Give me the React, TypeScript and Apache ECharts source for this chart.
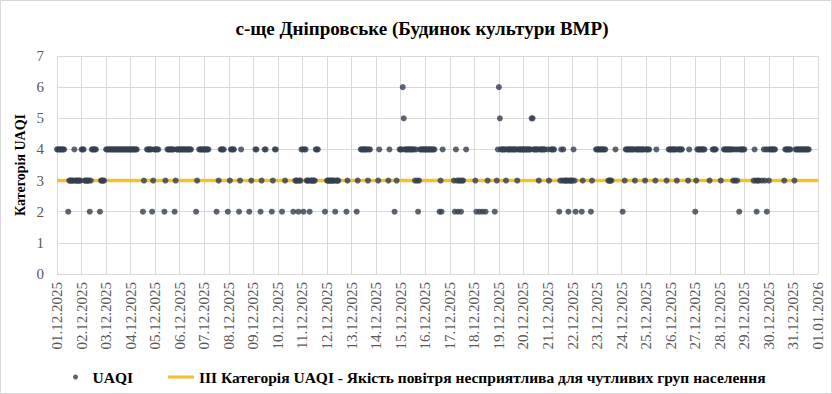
import React, { useEffect, useRef } from "react";
import * as echarts from "echarts";

const TITLE = "с-ще Дніпровське (Будинок культури ВМР)";
const Y_NAME = "Категорія UAQI";
const SERIES_UAQI = "UAQI";
const SERIES_LIMIT =
  "III Категорія UAQI - Якість повітря несприятлива для чутливих груп населення";

const dateLabels = [
  "01.12.2025", "02.12.2025", "03.12.2025", "04.12.2025", "05.12.2025",
  "06.12.2025", "07.12.2025", "08.12.2025", "09.12.2025", "10.12.2025",
  "11.12.2025", "12.12.2025", "13.12.2025", "14.12.2025", "15.12.2025",
  "16.12.2025", "17.12.2025", "18.12.2025", "19.12.2025", "20.12.2025",
  "21.12.2025", "22.12.2025", "23.12.2025", "24.12.2025", "25.12.2025",
  "26.12.2025", "27.12.2025", "28.12.2025", "29.12.2025", "30.12.2025",
  "31.12.2025", "01.01.2026",
];

const HOURS_PER_DAY = 24;
const Y_MIN = 0;
const Y_MAX = 7;
const LIMIT_VALUE = 3;

// hourly UAQI category per day (24 chars, "-" = no data)
const uaqiByDay = [
  "44444444---2333334333333",
  "444333332344444---23333-",
  "444444444444444444444444",
  "4444444-----23--44444234",
  "4444-----23-444444423444",
  "444444444444----23-44444",
  "44444-------2-3-4444---2",
  "-34444----234-------2-3-",
  "--44---23--44-----23-44-",
  "----2--3-------2-3332334",
  "4244333233333444------2-",
  "333333332333-------23---",
  "-----23--4444444344-----",
  "--34--------34----2-3--4",
  "446544444444443432344444",
  "4444444444----2324------",
  "----3243233233--4-------",
  "-32--2--2--2-3------2-34",
  "654444434444444444344444",
  "4444444455444443444444--",
  "43-4444----2343433332333",
  "3432-----23-------23---4",
  "444444444--3333---4-----",
  "-2-344444444434444444443",
  "4444-----34---------3-44",
  "444444344444-----34-----",
  "2344444444----3--4444---",
  "-3--44444444434343424444",
  "4--------343233--3-43424",
  "3444444--------3444444--",
  "-344444444444444--------",
];

const FONT = "Liberation Serif";

export default function App() {
  const ref = useRef<HTMLDivElement>(null);

  useEffect(() => {
    if (!ref.current) return;
    const chart = echarts.init(ref.current, null, { renderer: "svg" });

    const uaqiData: number[][] = [];
    uaqiByDay.forEach((day, d) => {
      for (let k = 0; k < HOURS_PER_DAY; k++) {
        const c = day.charAt(k);
        if (c && c !== "-") uaqiData.push([d * HOURS_PER_DAY + k, Number(c)]);
      }
    });
    const xMax = (dateLabels.length - 1) * HOURS_PER_DAY;
    const limitData = [
      [0, LIMIT_VALUE],
      [xMax, LIMIT_VALUE],
    ];

    chart.setOption({
      animation: false,
      backgroundColor: "#ffffff",
      textStyle: { fontFamily: FONT },
      title: {
        text: TITLE,
        left: 422,
        textAlign: "center",
        top: 19,
        padding: 0,
        textStyle: { fontFamily: FONT, fontSize: 19, fontWeight: "bold", color: "#000" },
      },
      graphic: [
        {
          type: "rect",
          shape: { x: 0.5, y: 0.5, width: 831, height: 393 },
          style: { fill: "none", stroke: "#d9d9d9", lineWidth: 1 },
          silent: true,
        },
      ],
      legend: [
        {
          data: [{ name: SERIES_UAQI, icon: "circle" }],
          left: 73,
          top: 369,
          padding: 0,
          itemWidth: 24,
          itemHeight: 5,
          textStyle: { fontFamily: FONT, fontSize: 15.5, fontWeight: "bold", color: "#000" },
        },
        {
          data: [{ name: SERIES_LIMIT, icon: "rect" }],
          left: 168,
          top: 369,
          padding: 0,
          itemWidth: 26,
          itemHeight: 3,
          textStyle: { fontFamily: FONT, fontSize: 15.5, fontWeight: "bold", color: "#000" },
        },
      ],
      grid: { left: 57, right: 14, top: 56, bottom: 120, containLabel: false },
      xAxis: {
        type: "value",
        min: 0,
        max: xMax,
        interval: HOURS_PER_DAY,
        axisLine: { show: false },
        axisTick: { show: false },
        splitLine: { show: true, lineStyle: { color: "#d9d9d9", width: 1 } },
        axisLabel: {
          rotate: 90,
          margin: 8,
          fontFamily: FONT,
          fontSize: 15,
          color: "#595959",
          showMinLabel: true,
          showMaxLabel: true,
          formatter: (v: number) => dateLabels[Math.round(v / HOURS_PER_DAY)] ?? "",
        },
      },
      yAxis: {
        type: "value",
        min: Y_MIN,
        max: Y_MAX,
        interval: 1,
        name: Y_NAME,
        nameLocation: "middle",
        nameGap: 30,
        nameMoveOverlap: false,
        nameTextStyle: { fontFamily: FONT, fontSize: 14, fontWeight: "bold", color: "#000" },
        axisLine: { show: false },
        axisTick: { show: false },
        splitLine: { show: true, lineStyle: { color: "#d9d9d9", width: 1 } },
        axisLabel: { margin: 13, fontFamily: FONT, fontSize: 15, color: "#595959" },
      },
      series: [
        {
          name: SERIES_LIMIT,
          type: "line",
          data: limitData,
          showSymbol: false,
          symbol: "none",
          lineStyle: { color: "#f2c12e", width: 3.5 },
          itemStyle: { color: "#f2c12e" },
          silent: true,
          z: 1,
        },
        {
          name: SERIES_UAQI,
          type: "scatter",
          data: uaqiData,
          symbol: "circle",
          symbolSize: 6,
          itemStyle: { color: "#333f4f" },
          z: 2,
        },
      ],
    });

    return () => chart.dispose();
  }, []);

  return (
    <div
      ref={ref}
      style={{ position: "fixed", left: 0, top: 0, width: 832, height: 394 }}
    />
  );
}
